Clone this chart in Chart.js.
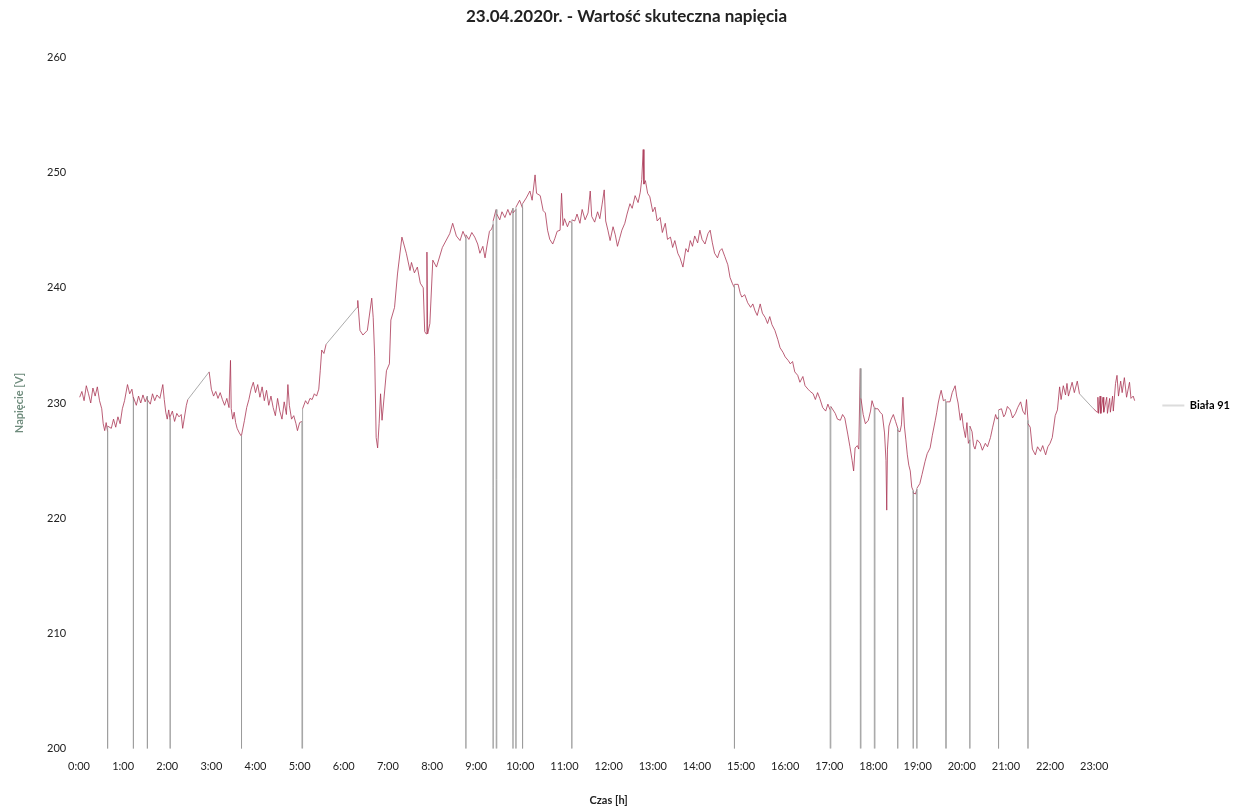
<!DOCTYPE html>
<html>
<head>
<meta charset="utf-8">
<title>23.04.2020r. - Wartość skuteczna napięcia</title>
<script src="https://cdn.jsdelivr.net/npm/chart.js@4.4.1/dist/chart.umd.min.js"></script>
<style>
  html, body { margin: 0; padding: 0; background: #fff; }
  #wrap { width: 1244px; height: 811px; position: relative; }
</style>
</head>
<body>
<div id="wrap"><canvas id="voltChart"></canvas></div>
<script>
// series name + axis ticks
const seriesName = 'Biała 91';
const hourLabels = ['0:00', '1:00', '2:00', '3:00', '4:00', '5:00', '6:00', '7:00', '8:00', '9:00', '10:00', '11:00',
    '12:00', '13:00', '14:00', '15:00', '16:00', '17:00', '18:00', '19:00', '20:00', '21:00', '22:00', '23:00'];
const voltTicks = [200, 210, 220, 230, 240, 250, 260];

// time of reading (minutes after midnight) and RMS voltage [V]; 0 = supply loss
const minutes = [
    1, 4, 7, 10, 13, 16, 19, 22, 25, 28, 31, 33, 35, 37, 39, 39, 39, 44, 47, 50, 53, 56, 59, 62, 66, 69, 72, 74, 74, 74,
    78, 81, 84, 87, 90, 93, 93, 93, 97, 100, 103, 106, 110, 114, 116, 118, 120, 122, 124, 124, 124, 127, 130, 133, 136, 139, 141, 143, 146, 148,
    177, 180, 183, 186, 189, 192, 195, 198, 201, 204, 206, 207, 209, 211, 213, 215, 218, 221, 221, 221, 225, 228, 231, 234, 237, 240, 243, 246, 249, 252,
    255, 258, 261, 264, 267, 270, 273, 276, 279, 282, 284, 286, 289, 292, 295, 297, 300, 303, 304, 304, 308, 311, 314, 317, 320, 323, 326, 328, 330, 333,
    336, 378, 379, 382, 386, 392, 398, 400, 402, 404, 406, 408, 410, 412, 418, 422, 424, 429, 433, 439, 445, 450, 452, 456, 460, 464, 468, 470, 472, 473,
    474, 477, 481, 486, 494, 504, 508, 513, 518, 522, 526, 526, 526, 530, 534, 538, 542, 545, 549, 552, 555, 558, 561, 563, 563, 563, 567, 568, 568, 572,
    575, 579, 583, 586, 590, 590, 590, 594, 594, 594, 599, 603, 603, 603, 608, 613, 616, 620, 622, 627, 631, 634, 637, 640, 644, 647, 650, 654, 656, 658,
    660, 664, 667, 670, 670, 670, 674, 677, 681, 684, 688, 692, 695, 697, 701, 705, 708, 711, 714, 716, 719, 722, 726, 729, 732, 735, 738, 742, 745, 749,
    752, 756, 760, 763, 765, 767, 768, 770, 773, 776, 780, 783, 786, 790, 793, 797, 800, 804, 807, 810, 814, 817, 821, 825, 828, 831, 834, 837, 841, 844,
    847, 851, 855, 858, 861, 864, 868, 871, 874, 878, 882, 885, 888, 891, 891, 891, 896, 899, 901, 905, 909, 913, 916, 919, 922, 926, 929, 933, 936, 939,
    942, 946, 950, 953, 957, 960, 964, 967, 970, 973, 977, 980, 984, 987, 991, 994, 998, 1001, 1004, 1007, 1011, 1015, 1018, 1021, 1022, 1022, 1026, 1028, 1031, 1035,
    1038, 1041, 1045, 1048, 1051, 1053, 1055, 1058, 1060, 1062, 1063, 1063, 1066, 1069, 1073, 1076, 1078, 1081, 1082, 1082, 1086, 1089, 1092, 1095, 1097, 1098, 1099, 1101, 1104, 1107,
    1110, 1113, 1113, 1113, 1116, 1118, 1120, 1122, 1124, 1126, 1128, 1130, 1132, 1134, 1134, 1134, 1137, 1139, 1139, 1139, 1143, 1146, 1150, 1153, 1157, 1160, 1164, 1166, 1168, 1170,
    1172, 1175, 1178, 1179, 1179, 1184, 1187, 1191, 1193, 1195, 1198, 1200, 1202, 1205, 1207, 1209, 1211, 1211, 1211, 1214, 1216, 1218, 1221, 1225, 1228, 1232, 1235, 1239, 1242, 1246,
    1248, 1250, 1250, 1250, 1254, 1257, 1259, 1262, 1266, 1269, 1273, 1276, 1280, 1283, 1286, 1288, 1290, 1290, 1290, 1293, 1296, 1300, 1303, 1307, 1310, 1314, 1317, 1320, 1323, 1327,
    1330, 1333, 1335, 1338, 1341, 1343, 1345, 1350, 1353, 1357, 1360, 1379, 1384, 1385, 1386, 1388, 1389, 1392, 1393, 1397, 1398, 1401, 1402, 1405, 1406, 1409, 1411, 1413, 1416, 1418,
    1421, 1424, 1428, 1430, 1433, 1435
];
const volts = [
    230.5, 231, 230.2, 231.5, 230.8, 230, 231.3, 230.6, 231.4, 230.2, 229.5, 228.2, 227.6, 228.3, 227.5, 0, 228, 227.8, 228.6, 227.9, 228.8, 228.2, 229.5, 230.2, 231.6, 230.8, 231.2, 230.4, 0, 230.5,
    229.8, 230.6, 230, 230.7, 230.1, 230.6, 0, 230.3, 229.9, 230.8, 230.2, 230.7, 230.4, 231.6, 230.3, 229.2, 228.6, 229.4, 228.5, 0, 228.8, 229.3, 228.4, 229.1, 228.8, 229, 227.8, 228.6, 229.8, 230.3,
    232.7, 231.2, 230.6, 231, 230.4, 230.9, 230.3, 229.8, 230.4, 229.6, 233.7, 229.5, 228.6, 229.2, 228.3, 227.8, 227.4, 227.1, 0, 227.2, 228.5, 229.6, 230.3, 231.2, 231.8, 230.9, 231.6, 230.5, 231.4, 230.2,
    231.1, 229.8, 230.6, 229.6, 228.9, 230.4, 229.3, 228.6, 230.1, 229, 231.6, 229.8, 228.6, 228.9, 228.2, 227.6, 228.3, 228.4, 0, 229.5, 230.2, 229.9, 230.4, 230.3, 230.8, 230.6, 231.2, 232.8, 234.6, 234.3,
    235.1, 238.3, 238.9, 236.3, 235.9, 236.3, 239.1, 237.4, 234, 227, 226.1, 228.2, 230.8, 228.5, 232.8, 233.4, 237.2, 238.3, 241.2, 244.4, 243, 241.5, 242.2, 241.3, 241.8, 240.4, 240, 236.2, 236, 243.1,
    236, 236.9, 242.4, 241.8, 243.5, 244.7, 245.6, 244.5, 244.1, 244.9, 244.3, 0, 244.6, 244.2, 244.8, 244.4, 243.8, 243, 243.6, 242.6, 243.8, 244.9, 245.1, 245.5, 0, 245.8, 246.8, 0, 246.4, 245.9,
    246.6, 246.1, 246.8, 246.3, 246.9, 0, 246.5, 246.8, 0, 247, 247.6, 246.9, 0, 247.3, 247.8, 248.4, 247.6, 249.8, 248.2, 248, 246.7, 246.5, 245, 244.2, 243.8, 244.3, 244.9, 245, 248.2, 245.4,
    246, 245.3, 245.8, 245.6, 0, 245.9, 245.8, 246.4, 245.6, 246.8, 245.9, 246.5, 248.4, 246.2, 245.7, 246.6, 246, 247.2, 248.5, 245.8, 245, 244.1, 245.3, 244.6, 243.6, 244.3, 245, 245.6, 246.4, 247.3,
    246.9, 248, 247.4, 248.3, 249.4, 252, 249, 249.3, 248.2, 247.9, 246.6, 247, 245.8, 246.1, 244.8, 245.6, 244.2, 244.4, 243.5, 244.1, 243, 242.6, 241.8, 243.4, 243.1, 244.1, 243.6, 244.5, 243.9, 245,
    244.2, 243.8, 244.7, 245, 243.9, 243, 242.6, 243.2, 243.4, 242.7, 242, 240.9, 240.4, 240, 0, 240.3, 240.3, 239.5, 239.2, 239.4, 238.7, 238.3, 238.6, 238, 237.6, 238.6, 237.8, 237.4, 236.9, 237.5,
    236.8, 236.3, 235.5, 234.8, 234.4, 234, 233.7, 233.4, 233.6, 232.7, 232.4, 231.8, 232.3, 231.5, 231.2, 231, 230.8, 230.3, 230.9, 230.4, 229.6, 229.3, 229.9, 229.4, 0, 229.7, 229.3, 229.1, 228.6, 228.5,
    229, 228.7, 227.3, 226.2, 225, 224.1, 226.1, 226.3, 226, 233, 0, 230.4, 229, 228.2, 228.5, 229.3, 230.2, 229.6, 0, 229.5, 229.5, 229.2, 229, 227.4, 225, 220.7, 226, 228, 228.6, 229,
    228.4, 227.8, 0, 227.6, 227.5, 228.1, 230.5, 228, 226.8, 225.5, 224.6, 224.1, 222.7, 222.4, 0, 222.2, 222.1, 222.5, 0, 222.6, 223, 223.8, 224.9, 225.6, 226.1, 227.2, 228.5, 229.2, 230, 230.6,
    231.1, 230.2, 230.3, 0, 230.1, 230.1, 230.9, 231.5, 230.6, 230, 228.5, 229.1, 228, 227, 228.3, 226.5, 226.8, 0, 228, 227.5, 226.3, 226, 226.8, 226.5, 225.9, 226.5, 226.2, 227, 227.9, 229,
    228.6, 228.8, 0, 229.4, 229.5, 228.8, 229, 229.7, 229.4, 228.7, 229.1, 229.6, 230.1, 229.3, 229, 230.3, 228.5, 0, 228.2, 227.9, 226, 225.5, 226.2, 225.8, 226.3, 225.5, 226.2, 226.5, 227, 228.9,
    229.4, 231.4, 230.3, 231.5, 230.7, 231.7, 230.6, 231.8, 230.9, 231.9, 230.8, 229.5, 229.2, 230.5, 229.1, 230.6, 229.1, 230.5, 229.2, 230.5, 229.1, 230.4, 229.2, 230.6, 229.3, 231.7, 232.4, 230.6, 231.9, 230.9,
    232.2, 230.5, 231.8, 230.4, 230.6, 230.2
];

const points = minutes.map((m, i) => ({ x: m, y: volts[i] }));

const lineRed = 'rgba(170, 55, 85, 0.8)';
const lineGray = 'rgba(150, 150, 150, 0.8)';

new Chart(document.getElementById('voltChart'), {
    type: 'line',
    data: {
        datasets: [{
            label: seriesName,
            data: points,
            borderColor: lineRed,
            borderWidth: 1,
            pointRadius: 0,
            tension: 0,
            segment: {
                // drops and long gaps look greyish in the original
                borderColor: ctx => (ctx.p0.parsed.y < 200 || ctx.p1.parsed.y < 200 ||
                    ctx.p1.parsed.x - ctx.p0.parsed.x > 10) ? lineGray : lineRed
            }
        }]
    },
    options: {
        responsive: true,
        maintainAspectRatio: false,
        animation: false,
        layout: { padding: { top: 4, left: 13, right: 4, bottom: 4 } },
        plugins: {
            title: {
                display: true,
                text: '23.04.2020r. - Wartość skuteczna napięcia',
                color: '#222',
                font: { family: 'Lato', size: 17, weight: 'bold' },
                padding: { top: 2, bottom: 31 }
            },
            legend: {
                position: 'right',
                labels: {
                    boxWidth: 22,
                    boxHeight: 2,
                    padding: 24,
                    color: '#222',
                    font: { family: 'Lato', size: 11, weight: 'bold' },
                    generateLabels: () => [{
                        text: seriesName,
                        fillStyle: '#dcdcdc',
                        strokeStyle: '#dcdcdc',
                        lineWidth: 0,
                        datasetIndex: 0
                    }]
                }
            },
            tooltip: { enabled: false }
        },
        scales: {
            x: {
                type: 'linear',
                min: 0,
                max: 1440,
                grid: { display: false },
                border: { display: false },
                ticks: {
                    stepSize: 60,
                    autoSkip: false,
                    maxRotation: 0,
                    padding: 3,
                    color: '#222',
                    font: { family: 'Lato', size: 11 },
                    callback: value => hourLabels[value / 60] ?? ''
                },
                title: {
                    display: true,
                    text: 'Czas [h]',
                    color: '#222',
                    font: { family: 'Lato', size: 11, weight: 'bold' },
                    padding: { top: 18, bottom: 0 }
                }
            },
            y: {
                min: voltTicks[0],
                max: voltTicks[voltTicks.length - 1],
                grid: { display: false },
                border: { display: false },
                afterBuildTicks: axis => { axis.ticks = voltTicks.map(v => ({ value: v })); },
                ticks: {
                    padding: 4.8,
                    color: '#222',
                    font: { family: 'Lato', size: 11 }
                },
                title: {
                    display: true,
                    text: 'Napięcie [V]',
                    color: '#6f8c7d',
                    font: { family: 'Lato', size: 11, weight: 'bold' },
                    padding: { top: 0, bottom: 16 }
                }
            }
        }
    }
});
</script>
</body>
</html>
